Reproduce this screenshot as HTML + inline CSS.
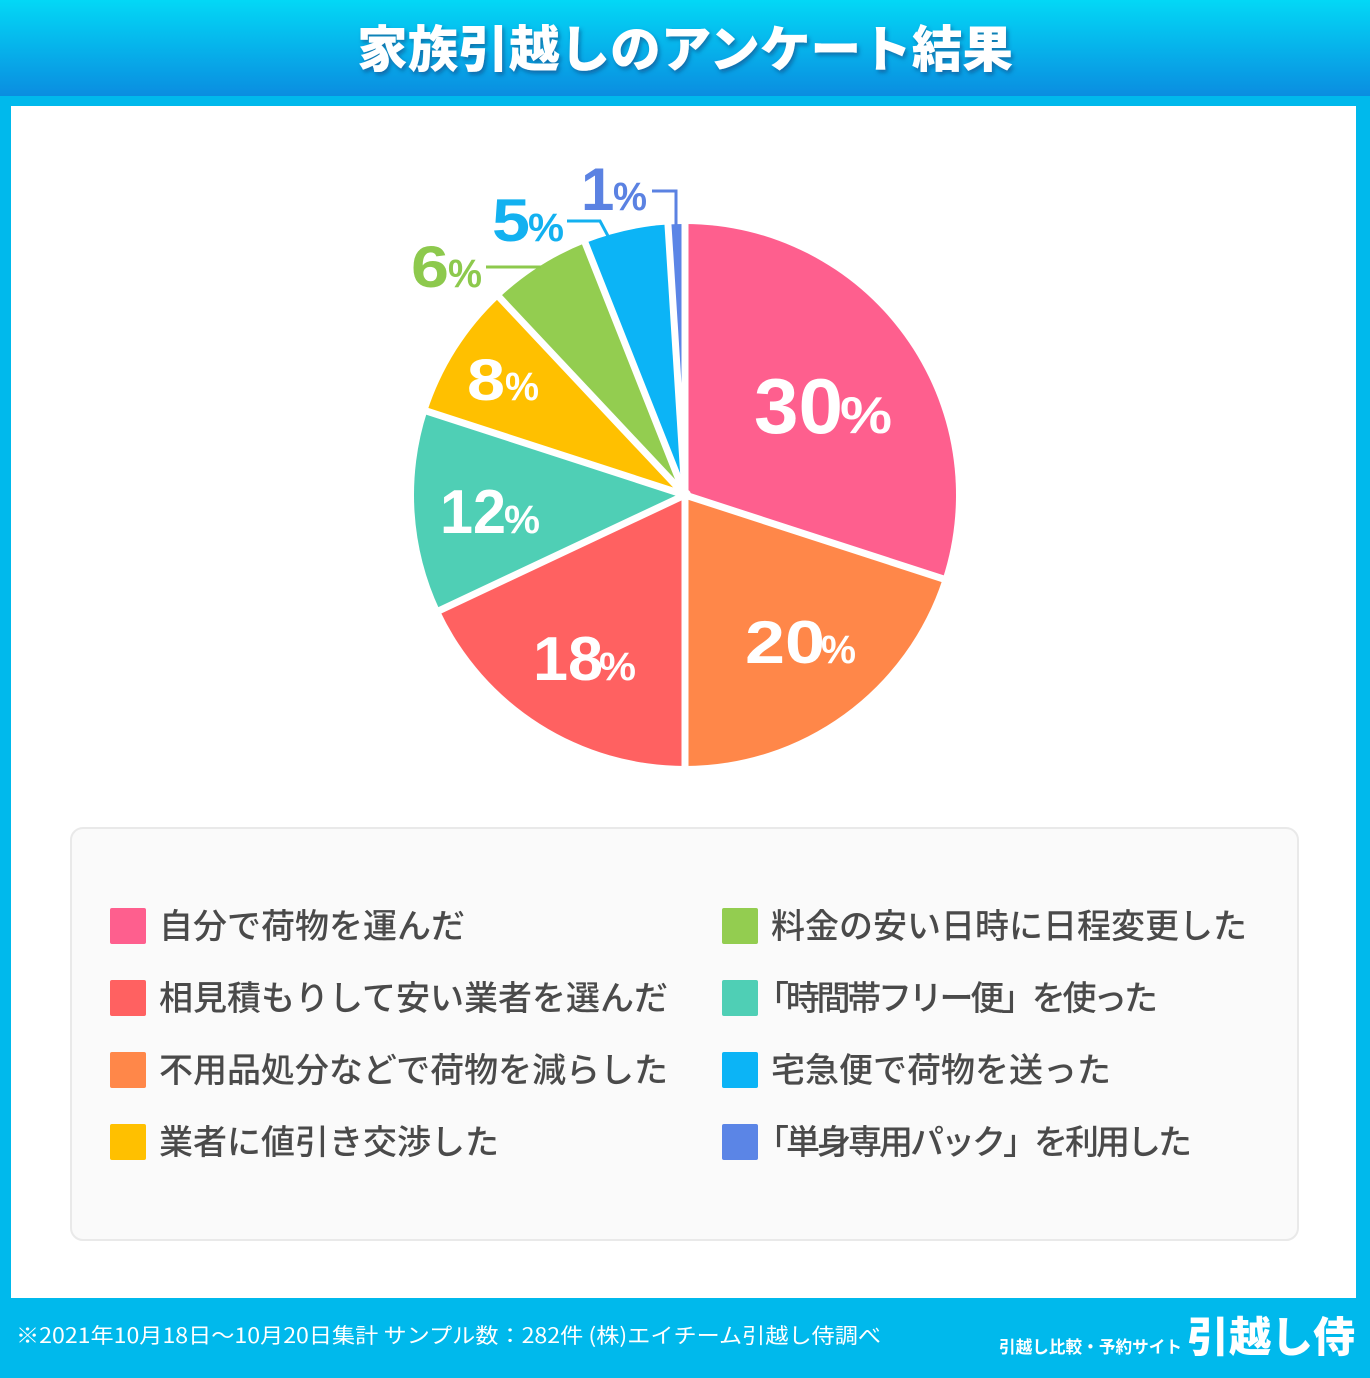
<!DOCTYPE html>
<html><head><meta charset="utf-8"><style>
html,body{margin:0;padding:0;background:#00b9ec;}
svg{display:block;}
text{font-family:"Liberation Sans","Noto Sans CJK JP",sans-serif;}
.jp{font-family:"Noto Sans CJK JP","Liberation Sans",sans-serif;}
</style></head><body>
<svg width="1370" height="1378" viewBox="0 0 1370 1378" xmlns="http://www.w3.org/2000/svg">
<defs>
<linearGradient id="hg" x1="0" y1="0" x2="0" y2="1">
<stop offset="0" stop-color="#03d8f6"/>
<stop offset="1" stop-color="#0a8de0"/>
</linearGradient>
<filter id="ts" x="-5%" y="-30%" width="110%" height="160%">
<feDropShadow dx="2" dy="3" stdDeviation="2" flood-color="#0a3f7a" flood-opacity="0.55"/>
</filter>
</defs>
<rect x="0" y="0" width="1370" height="1378" fill="#00b9ec"/>
<rect x="0" y="0" width="1370" height="96" fill="url(#hg)"/>
<text class="jp" x="357" y="67" font-size="50" font-weight="900" fill="#ffffff" textLength="656" lengthAdjust="spacingAndGlyphs" filter="url(#ts)">家族引越しのアンケート結果</text>
<rect x="11" y="106" width="1345" height="1192" fill="#ffffff"/>

<!-- pie -->
<g>
<path d="M685,495 L685,224 A271,271 0 0 1 942.74,578.74 Z" fill="#fe5f8e"/>
<path d="M685,495 L942.74,578.74 A271,271 0 0 1 685,766 Z" fill="#ff8749"/>
<path d="M685,495 L685,766 A271,271 0 0 1 439.79,610.39 Z" fill="#ff6161"/>
<path d="M685,495 L439.79,610.39 A271,271 0 0 1 427.26,411.26 Z" fill="#4fcfb5"/>
<path d="M685,495 L427.26,411.26 A271,271 0 0 1 499.49,297.45 Z" fill="#ffc000"/>
<path d="M685,495 L499.49,297.45 A271,271 0 0 1 585.24,243.03 Z" fill="#93cd50"/>
<path d="M685,495 L585.24,243.03 A271,271 0 0 1 667.98,224.53 Z" fill="#0cb4f6"/>
<path d="M685,495 L667.98,224.53 A271,271 0 0 1 685,224 Z" fill="#5b85e6"/>
<g stroke="#ffffff" stroke-width="7" stroke-linecap="butt">
<line x1="685" y1="495" x2="685" y2="215"/>
<line x1="685" y1="495" x2="951.3" y2="581.5"/>
<line x1="685" y1="495" x2="685" y2="775"/>
<line x1="685" y1="495" x2="431.6" y2="614.2"/>
<line x1="685" y1="495" x2="418.6" y2="408.5"/>
<line x1="685" y1="495" x2="493.3" y2="290.9"/>
<line x1="685" y1="495" x2="581.9" y2="234.7"/>
<line x1="685" y1="495" x2="667.4" y2="215.5"/>
</g>
<circle cx="685" cy="495" r="6" fill="#ffffff"/>
</g>

<!-- inner labels -->
<g fill="#ffffff">
<text x="754" y="433" font-size="78" font-weight="bold" textLength="89" lengthAdjust="spacingAndGlyphs">30</text>
<text x="840" y="433" font-size="52" font-weight="bold" textLength="52" lengthAdjust="spacingAndGlyphs">%</text>
<text x="745" y="663" font-size="60" font-weight="bold" textLength="80" lengthAdjust="spacingAndGlyphs">20</text>
<text x="821" y="663" font-size="40" font-weight="bold" textLength="35" lengthAdjust="spacingAndGlyphs">%</text>
<text x="533" y="680" font-size="62" font-weight="bold" textLength="70" lengthAdjust="spacingAndGlyphs">18</text>
<text x="599" y="680" font-size="40" font-weight="bold" textLength="37" lengthAdjust="spacingAndGlyphs">%</text>
<text x="440" y="533" font-size="62" font-weight="bold" textLength="66" lengthAdjust="spacingAndGlyphs">12</text>
<text x="504" y="533" font-size="40" font-weight="bold" textLength="36" lengthAdjust="spacingAndGlyphs">%</text>
<text x="467" y="400" font-size="58" font-weight="bold" textLength="38" lengthAdjust="spacingAndGlyphs">8</text>
<text x="505" y="400" font-size="40" font-weight="bold" textLength="34" lengthAdjust="spacingAndGlyphs">%</text>
</g>

<!-- outer labels -->
<g fill="#8dc94d">
<text x="411" y="287" font-size="58" font-weight="bold" textLength="38" lengthAdjust="spacingAndGlyphs">6</text>
<text x="448" y="287" font-size="40" font-weight="bold" textLength="34" lengthAdjust="spacingAndGlyphs">%</text>
</g>
<line x1="486" y1="267" x2="541" y2="267" stroke="#8dc94d" stroke-width="3"/>
<g fill="#13b1f0">
<text x="492" y="241" font-size="60" font-weight="bold" textLength="38" lengthAdjust="spacingAndGlyphs">5</text>
<text x="528" y="241" font-size="40" font-weight="bold" textLength="36" lengthAdjust="spacingAndGlyphs">%</text>
</g>
<polyline points="567,221 600,221 608,236" fill="none" stroke="#13b1f0" stroke-width="3"/>
<g fill="#5b82e2">
<text x="581" y="210" font-size="60" font-weight="bold">1</text>
<text x="613" y="210" font-size="40" font-weight="bold" textLength="34" lengthAdjust="spacingAndGlyphs">%</text>
</g>
<polyline points="652,191 676,191 676,225" fill="none" stroke="#5b82e2" stroke-width="3"/>

<!-- legend -->
<rect x="71" y="828" width="1227" height="412" rx="12" ry="12" fill="#fafafa" stroke="#e9e9e9" stroke-width="2"/>
<g>
<rect x="110" y="908" width="36" height="36" rx="2" fill="#fe5f8e"/>
<rect x="110" y="980" width="36" height="36" rx="2" fill="#ff6161"/>
<rect x="110" y="1052" width="36" height="36" rx="2" fill="#ff8749"/>
<rect x="110" y="1124" width="36" height="36" rx="2" fill="#ffc000"/>
<rect x="722" y="908" width="36" height="36" rx="2" fill="#93cd50"/>
<rect x="722" y="980" width="36" height="36" rx="2" fill="#4fcfb5"/>
<rect x="722" y="1052" width="36" height="36" rx="2" fill="#0cb4f6"/>
<rect x="722" y="1124" width="36" height="36" rx="2" fill="#5b85e6"/>
</g>
<g class="jp" fill="#4a4a4a" font-size="34" font-weight="500">
<text class="jp" x="159" y="938">自分で荷物を運んだ</text>
<text class="jp" x="159" y="1010" textLength="509" lengthAdjust="spacing">相見積もりして安い業者を選んだ</text>
<text class="jp" x="159" y="1082" textLength="509" lengthAdjust="spacing">不用品処分などで荷物を減らした</text>
<text class="jp" x="159" y="1154">業者に値引き交渉した</text>
<text class="jp" x="771" y="938" textLength="476" lengthAdjust="spacing">料金の安い日時に日程変更した</text>
<text class="jp" x="755" y="1010" textLength="403" lengthAdjust="spacing">「時間帯フリー便」を使った</text>
<text class="jp" x="771" y="1082">宅急便で荷物を送った</text>
<text class="jp" x="755" y="1154" textLength="437" lengthAdjust="spacing">「単身専用パック」を利用した</text>
</g>

<!-- footer -->
<text class="jp" x="16" y="1343" font-size="21" fill="#ffffff" textLength="865" lengthAdjust="spacingAndGlyphs">※2021年10月18日～10月20日集計 サンプル数：282件 (株)エイチーム引越し侍調べ</text>
<text class="jp" x="999" y="1353" font-size="17" font-weight="bold" fill="#ffffff" textLength="183" lengthAdjust="spacingAndGlyphs">引越し比較・予約サイト</text>
<text class="jp" x="1187" y="1352" font-size="42" font-weight="900" fill="#ffffff" textLength="168" lengthAdjust="spacingAndGlyphs">引越し侍</text>
</svg>
</body></html>
